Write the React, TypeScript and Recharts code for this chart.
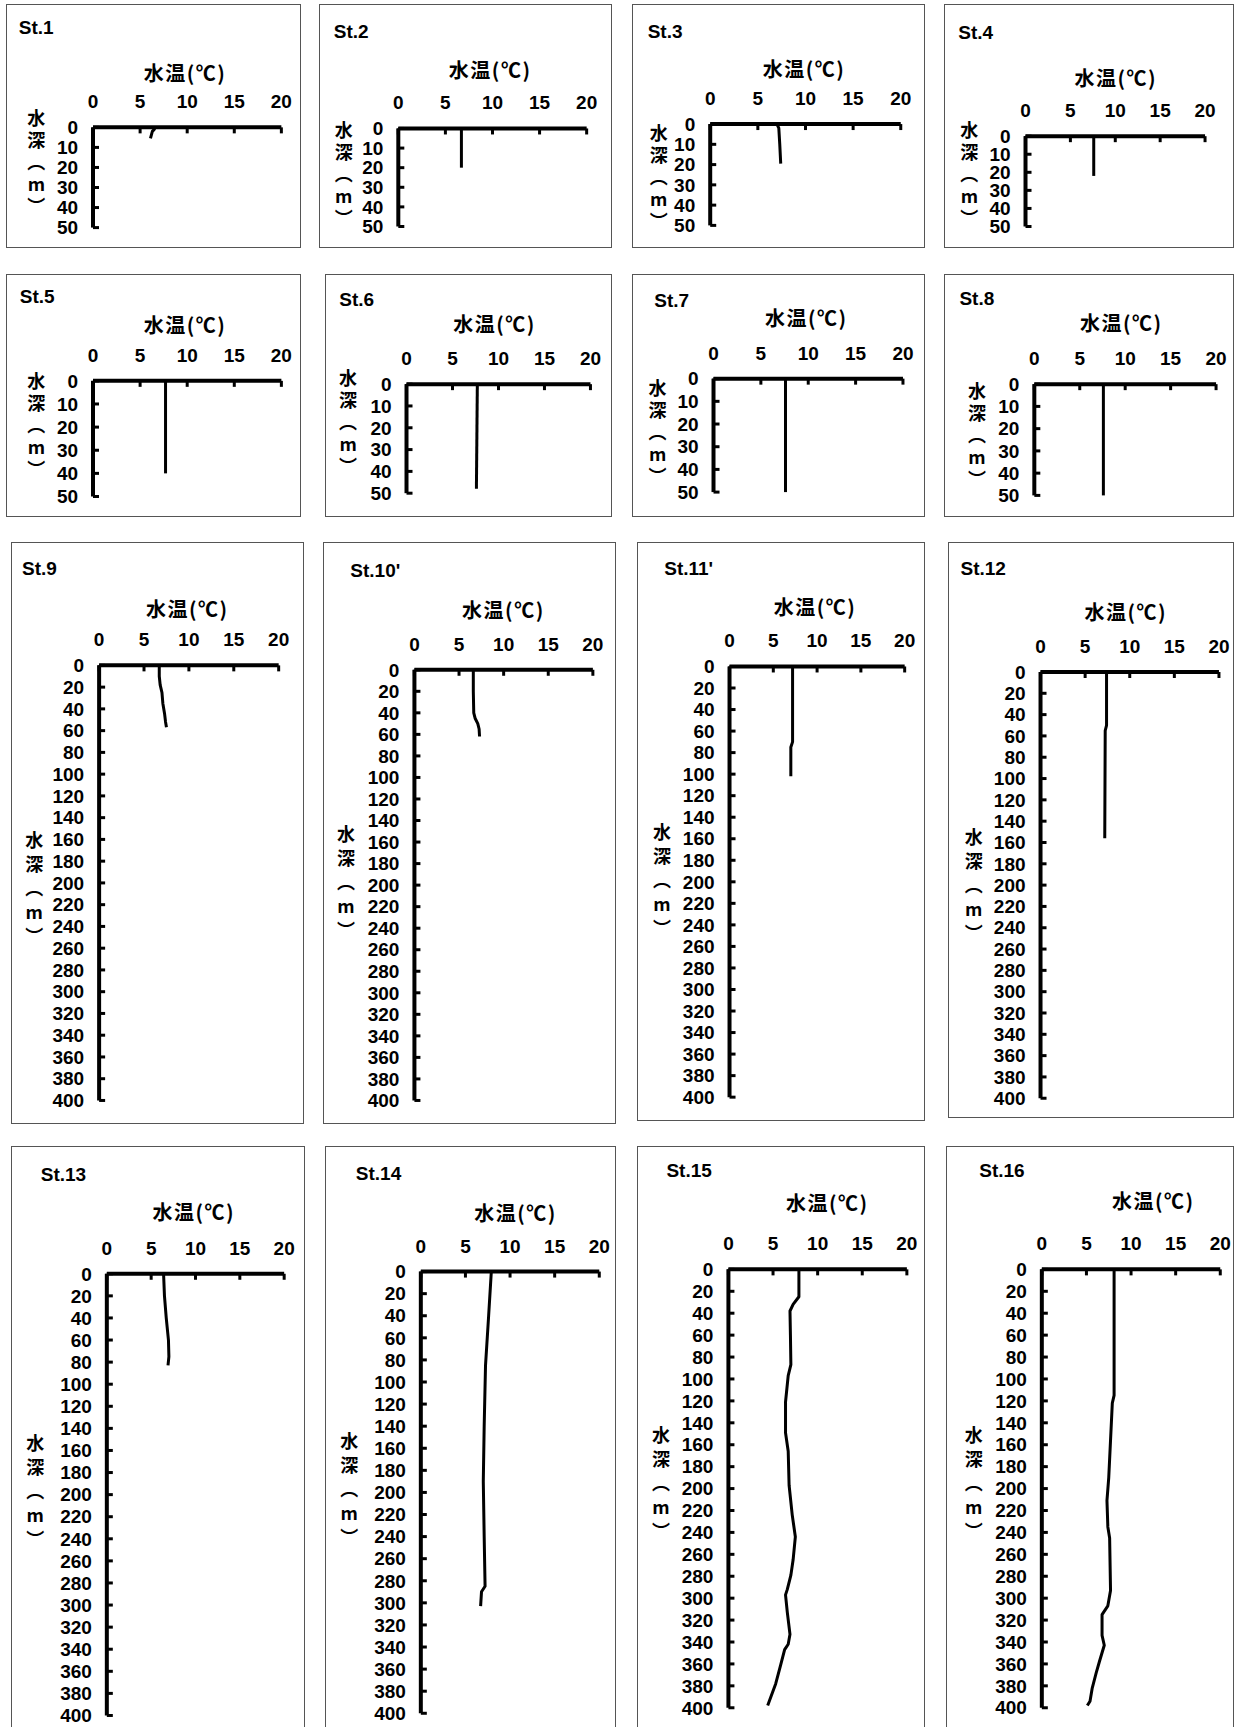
import React from "react";
import { LineChart, Line, XAxis, YAxis } from "recharts";

// tick labels
const tempTicks = [0, 5, 10, 15, 20];
const shallowDepthTicks = [0, 10, 20, 30, 40, 50];
const deepDepthTicks = [
  0, 20, 40, 60, 80, 100, 120, 140, 160, 180, 200, 220, 240, 260, 280, 300,
  320, 340, 360, 380, 400,
];

// station profiles: depth (m) / water temperature (°C)
const st1Depth = [0, 1, 2, 5.5];
const st1Temp = [6.6, 6.5, 6.3, 6.1];
const st2Depth = [0, 20];
const st2Temp = [6.7, 6.7];
const st3Depth = [0, 2, 10, 19.5];
const st3Temp = [7.0, 7.2, 7.3, 7.4];
const st4Depth = [0, 22];
const st4Temp = [7.6, 7.6];
const st5Depth = [0, 40];
const st5Temp = [7.7, 7.7];
const st6Depth = [0, 48];
const st6Temp = [7.7, 7.6];
const st7Depth = [0, 50];
const st7Temp = [7.6, 7.6];
const st8Depth = [0, 50];
const st8Temp = [7.6, 7.6];
const st9Depth = [0, 10, 18, 25, 35, 45, 52, 57];
const st9Temp = [6.7, 6.7, 6.8, 7.0, 7.1, 7.3, 7.4, 7.5];
const st10Depth = [0, 20, 40, 45, 50, 55, 62];
const st10Temp = [6.6, 6.6, 6.65, 6.8, 7.1, 7.25, 7.3];
const st11Depth = [0, 70, 75, 102];
const st11Temp = [7.2, 7.2, 7.0, 7.0];
const st12Depth = [0, 50, 55, 156];
const st12Temp = [7.4, 7.4, 7.25, 7.2];
const st13Depth = [0, 20, 40, 60, 75, 83];
const st13Temp = [6.4, 6.5, 6.7, 6.95, 7.0, 6.9];
const st14Depth = [0, 40, 85, 140, 190, 240, 285, 290, 303];
const st14Temp = [7.9, 7.6, 7.25, 7.1, 7.0, 7.1, 7.2, 6.8, 6.7];
const st15Depth = [
  0, 25, 32, 38, 60, 87, 97, 121, 149, 166, 197, 224, 244, 265, 279, 292, 297,
  313, 333, 342, 347, 361, 378, 398,
];
const st15Temp = [
  7.9, 7.9, 7.25, 6.9, 6.95, 7.0, 6.7, 6.4, 6.4, 6.7, 6.8, 7.15, 7.5, 7.25, 7.0,
  6.6, 6.4, 6.6, 6.9, 6.7, 6.3, 5.85, 5.3, 4.4,
];
const st16Depth = [
  0, 115, 122, 190, 211, 235, 245, 293, 307, 315, 334, 343, 358, 368, 382, 394,
  398,
];
const st16Temp = [
  8.1, 8.1, 7.9, 7.5, 7.3, 7.4, 7.6, 7.7, 7.4, 6.75, 6.75, 7.0, 6.45, 6.1, 5.65,
  5.4, 5.1,
];

const stations = [
  { name: "St.1", depth: st1Depth, temp: st1Temp, ticks: shallowDepthTicks },
  { name: "St.2", depth: st2Depth, temp: st2Temp, ticks: shallowDepthTicks },
  { name: "St.3", depth: st3Depth, temp: st3Temp, ticks: shallowDepthTicks },
  { name: "St.4", depth: st4Depth, temp: st4Temp, ticks: shallowDepthTicks },
  { name: "St.5", depth: st5Depth, temp: st5Temp, ticks: shallowDepthTicks },
  { name: "St.6", depth: st6Depth, temp: st6Temp, ticks: shallowDepthTicks },
  { name: "St.7", depth: st7Depth, temp: st7Temp, ticks: shallowDepthTicks },
  { name: "St.8", depth: st8Depth, temp: st8Temp, ticks: shallowDepthTicks },
  { name: "St.9", depth: st9Depth, temp: st9Temp, ticks: deepDepthTicks },
  { name: "St.10'", depth: st10Depth, temp: st10Temp, ticks: deepDepthTicks },
  { name: "St.11'", depth: st11Depth, temp: st11Temp, ticks: deepDepthTicks },
  { name: "St.12", depth: st12Depth, temp: st12Temp, ticks: deepDepthTicks },
  { name: "St.13", depth: st13Depth, temp: st13Temp, ticks: deepDepthTicks },
  { name: "St.14", depth: st14Depth, temp: st14Temp, ticks: deepDepthTicks },
  { name: "St.15", depth: st15Depth, temp: st15Temp, ticks: deepDepthTicks },
  { name: "St.16", depth: st16Depth, temp: st16Temp, ticks: deepDepthTicks },
];

// layout measured on a 1123px-wide copy, scaled up by K
const K = 1237 / 1123;
const layouts = [
  { box: [5, 4, 273, 225], axis: [84, 116, 255, 207], title: [17, 25], xt: [168, 66], yt: [33, 107] },
  { box: [290, 4, 556, 225], axis: [362, 117, 533, 206], title: [303, 29], xt: [445, 64], yt: [312, 118] },
  { box: [574, 4, 840, 225], axis: [645, 113, 818, 205], title: [588, 29], xt: [730, 63], yt: [598, 121] },
  { box: [857, 4, 1120, 225], axis: [931, 124, 1094, 206], title: [870, 30], xt: [1013, 71], yt: [880, 118] },
  { box: [5, 249, 273, 469], axis: [84, 346, 255, 451], title: [18, 270], xt: [168, 295], yt: [33, 346] },
  { box: [295, 249, 556, 469], axis: [369, 349, 536, 448], title: [308, 272], xt: [449, 294], yt: [316, 343] },
  { box: [574, 249, 840, 469], axis: [648, 344, 820, 447], title: [594, 273], xt: [732, 289], yt: [597, 352] },
  { box: [857, 249, 1120, 469], axis: [939, 349, 1104, 450], title: [871, 271], xt: [1018, 293], yt: [887, 355] },
  { box: [10, 492, 276, 1020], axis: [90, 604, 253, 999], title: [20, 517], xt: [170, 553], yt: [31, 763] },
  { box: [293, 492, 559, 1020], axis: [376, 608, 538, 999], title: [318, 518], xt: [457, 554], yt: [314, 757] },
  { box: [578, 492, 840, 1018], axis: [662, 605, 821, 996], title: [603, 517], xt: [740, 551], yt: [601, 755] },
  { box: [861, 492, 1120, 1015], axis: [945, 610, 1107, 997], title: [872, 517], xt: [1022, 556], yt: [884, 760] },
  { box: [10, 1040, 277, 1580], axis: [97, 1156, 258, 1557], title: [37, 1067], xt: [176, 1100], yt: [32, 1310] },
  { box: [295, 1040, 559, 1580], axis: [382, 1154, 544, 1555], title: [323, 1066], xt: [468, 1101], yt: [317, 1308] },
  { box: [578, 1040, 840, 1580], axis: [661, 1152, 823, 1550], title: [605, 1063], xt: [751, 1092], yt: [600, 1303] },
  { box: [859, 1040, 1120, 1580], axis: [946, 1152, 1108, 1550], title: [889, 1063], xt: [1047, 1090], yt: [884, 1303] },
];

const numFont = "'Liberation Sans', Arial, sans-serif";
const jpFont = "'Noto Sans CJK JP', sans-serif";

function Panel({ station, layout }: { station: any; layout: any }) {
  const [bx1, by1, bx2, by2] = layout.box.map((v: number) => v * K);
  const [ax0, ay0, ax1, ay1] = layout.axis.map((v: number) => v * K);
  const w = bx2 - bx1;
  const h = by2 - by1;
  const yAxisW = 50;
  const xAxisH = 30;
  const maxDepth = station.ticks[station.ticks.length - 1];
  const deep = maxDepth > 50;
  const data = station.depth.map((d: number, i: number) => ({ d, t: station.temp[i] }));
  const tickStyle = { fill: "#000", fontSize: 19, fontWeight: 700, fontFamily: numFont };
  const step = deep ? 24 : 22;
  const yFont = 18;

  return (
    <>
      <div
        style={{
          position: "absolute",
          left: bx1,
          top: by1,
          width: w,
          height: h,
          boxSizing: "border-box",
          border: "1px solid #555",
        }}
      />
      <div style={{ position: "absolute", left: bx1, top: by1 }}>
        <LineChart
          layout="vertical"
          width={w}
          height={h}
          data={data}
          margin={{
            left: ax0 - bx1 - yAxisW,
            top: ay0 - by1 - xAxisH,
            right: bx2 - ax1,
            bottom: by2 - ay1,
          }}
        >
          <XAxis
            type="number"
            orientation="top"
            domain={[0, 20]}
            ticks={tempTicks}
            height={xAxisH}
            tickSize={-6}
            tickMargin={25}
            interval={0}
            axisLine={{ stroke: "#000", strokeWidth: 4 }}
            tickLine={{ stroke: "#000", strokeWidth: 3 }}
            tick={tickStyle}
          />
          <YAxis
            type="number"
            dataKey="d"
            domain={[0, maxDepth]}
            ticks={station.ticks}
            width={yAxisW}
            tickSize={-6}
            tickMargin={21}
            interval={0}
            axisLine={{ stroke: "#000", strokeWidth: 4 }}
            tickLine={{ stroke: "#000", strokeWidth: 3 }}
            tick={tickStyle}
          />
          <Line
            dataKey="t"
            stroke="#000"
            strokeWidth={3}
            dot={false}
            strokeLinejoin="round"
            isAnimationActive={false}
          />
        </LineChart>
      </div>
      <div
        style={{
          position: "absolute",
          left: layout.title[0] * K,
          top: layout.title[1] * K - 12,
          lineHeight: "24px",
          fontSize: 19,
          fontWeight: 700,
          fontFamily: numFont,
        }}
      >
        {station.name}
      </div>
      <div
        style={{
          position: "absolute",
          left: layout.xt[0] * K - 70,
          width: 140,
          textAlign: "center",
          top: layout.xt[1] * K - 13,
          lineHeight: "26px",
          fontSize: 20,
          letterSpacing: 1.5,
          fontWeight: 700,
          fontFamily: jpFont,
        }}
      >
        水温(℃)
      </div>
      <div
        style={{
          position: "absolute",
          left: layout.yt[0] * K - 12,
          top: layout.yt[1] * K - yFont / 2,
          writingMode: "vertical-rl",
          textOrientation: "upright",
          lineHeight: "24px",
          fontSize: yFont,
          letterSpacing: step - yFont,
          fontWeight: 700,
          fontFamily: jpFont,
        }}
      >
        水深（m）
      </div>
    </>
  );
}

export default function App() {
  return (
    <div
      style={{
        position: "absolute",
        left: 0,
        top: 0,
        width: 1237,
        height: 1727,
        overflow: "hidden",
        background: "#fff",
        color: "#000",
      }}
    >
      {stations.map((s, i) => (
        <Panel key={s.name} station={s} layout={layouts[i]} />
      ))}
    </div>
  );
}
